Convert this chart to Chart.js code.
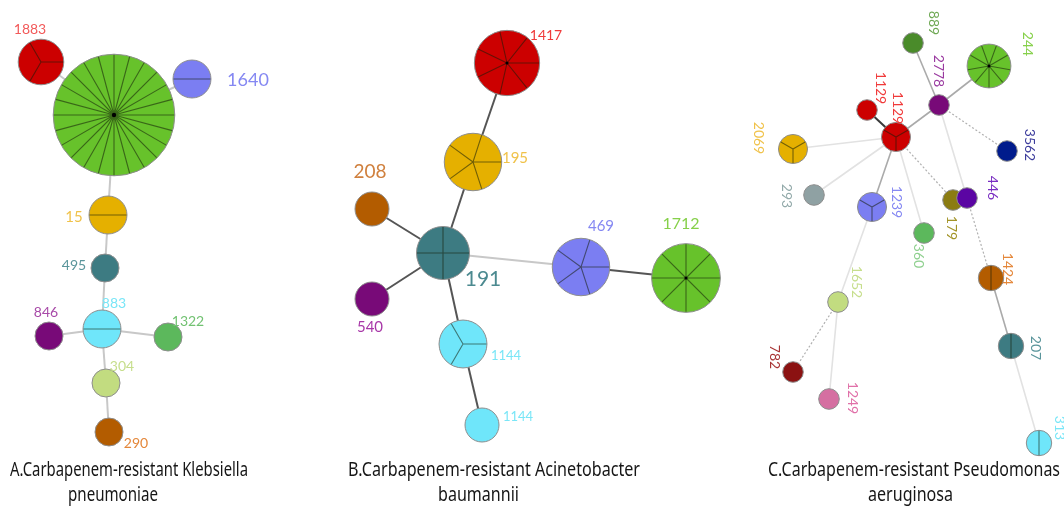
<!DOCTYPE html>
<html><head><meta charset="utf-8">
<script src="https://cdn.jsdelivr.net/npm/chart.js@4.4.1/dist/chart.umd.min.js"></script>
<style>html,body{margin:0;padding:0;background:#fff}canvas{display:block}</style>
</head><body>
<canvas id="mst" width="1064" height="506"></canvas>
<script>
// ---- Panel A: carbapenem-resistant Klebsiella pneumoniae (sequence types, isolate counts) ----
const aLabels = ['', '1883', '1640', '15', '495', '883', '846', '1322', '304', '290'];
const aX = [114, 41, 192, 108, 105, 102, 49, 168, 106, 109];
const aY = [115, 62, 79, 215, 268, 329, 336, 337, 383, 432];
const aCounts = [24, 3, 2, 2, 1, 2, 1, 1, 1, 1];
const aEdges = [[1, 0], [2, 0], [0, 3], [3, 4], [4, 5], [5, 6], [5, 7], [5, 8], [8, 9]];

// ---- Panel B: carbapenem-resistant Acinetobacter baumannii ----
const bLabels = ['1417', '195', '208', '191', '469', '1712', '540', '1144', '1144'];
const bX = [507, 473, 372, 443, 581, 686, 372, 463, 482];
const bY = [63, 162, 209, 253, 267, 278, 299, 344, 425];
const bCounts = [7, 5, 1, 4, 5, 8, 1, 3, 1];
const bEdges = [[0, 1], [1, 3], [2, 3], [6, 3], [3, 7], [7, 8], [3, 4], [4, 5]];

// ---- Panel C: carbapenem-resistant Pseudomonas aeruginosa ----
const cLabels = ['889', '244', '2778', '1129', '1129', '2069', '293', '1239', '179',
                 '446', '360', '3562', '1652', '782', '1249', '1424', '207', '313'];
const cX = [913, 989, 939, 867, 896, 793, 814, 872, 953, 967, 924, 1007, 838, 793, 829, 991, 1011, 1039];
const cY = [43, 66, 105, 110, 137, 149, 195, 207, 200, 198, 233, 151, 302, 372, 399, 278, 346, 443];
const cCounts = [1, 9, 1, 1, 3, 3, 1, 3, 1, 1, 1, 1, 1, 1, 1, 2, 2, 2];
const cEdges = [[0, 2], [1, 2], [2, 4], [3, 4], [4, 5], [4, 6], [4, 7], [4, 10], [4, 8],
                [2, 11], [2, 9], [9, 15], [7, 12], [12, 13], [12, 14], [15, 16], [16, 17]];

// ---- styling ----
const edgeLook = {
  light:  { color: '#c8c8c8', width: 2,   dash: [] },
  dark:   { color: '#555555', width: 2,   dash: [] },
  strong: { color: '#3a3a3a', width: 2,   dash: [] },
  mid:    { color: '#aaaaaa', width: 1.6, dash: [] },
  faint:  { color: '#e2e2e2', width: 1.6, dash: [] },
  dotted: { color: '#b0b0b0', width: 1.2, dash: [2, 2] }
};
const aEdgeLook = ['light', 'light', 'light', 'light', 'light', 'light', 'light', 'light', 'light'];
const bEdgeLook = ['dark', 'dark', 'dark', 'dark', 'dark', 'dark', 'light', 'dark'];
const cEdgeLook = ['mid', 'mid', 'mid', 'strong', 'faint', 'faint', 'mid', 'faint', 'dotted',
                   'dotted', 'faint', 'dotted', 'faint', 'dotted', 'faint', 'mid', 'faint'];

const RED = '#cc0000', GREEN = '#67c22b', BLUE = '#7b7ef2', GOLD = '#e5b000', TEAL = '#3d7b82',
      CYAN = '#6fe6fa', PURPLE = '#780a78', MIDGREEN = '#5cb85c', LIME = '#c2dc80', BROWN = '#b35c00';

const aFill = [GREEN, RED, BLUE, GOLD, TEAL, CYAN, PURPLE, MIDGREEN, LIME, BROWN];
const aText = ['', '#f25a5a', '#8588f2', '#f0c24a', '#5a959b', '#7ae6f7', '#a84aa8', '#72c272', '#c6de8c', '#e4873a'];
const aOffset = [[0, 0], [-11, -33], [56, 1], [-34, 2], [-31, -3], [12, -26], [-3, -24], [20, -16], [16, -17], [27, 11]];
const aSize = [14, 14, 18, 15, 14, 14, 14, 14, 14, 14];

const bFill = [RED, GOLD, BROWN, TEAL, BLUE, GREEN, PURPLE, CYAN, CYAN];
const bText = ['#f03a3a', '#f0c24a', '#d0803e', '#4c8a90', '#8588f2', '#86d04a', '#a838a8', '#7ae6f7', '#7ae6f7'];
const bOffset = [[39, -28], [42, -4], [-2, -37], [40, 26], [20, -41], [-5, -54], [-2, 28], [43, 12], [36, -8]];
const bSize = [14, 15, 19, 21, 15, 16, 15, 13, 13];

const cFill = ['#4a8b2a', GREEN, PURPLE, RED, RED, GOLD, '#8fa1a3', BLUE, '#8b7c12',
               '#5b05a3', MIDGREEN, '#001b8c', LIME, '#8b1212', '#d56fa1', BROWN, TEAL, CYAN];
const cText = ['#6fa854', '#86d04a', '#9a3aa0', '#f03a3a', '#f03a3a', '#f0c24a', '#93aaaa', '#8588f2', '#a39428',
               '#7a2ec2', '#8fd08f', '#3c3c9c', '#c6de8c', '#a83434', '#e070a8', '#e4873a', '#5a959b', '#7ae6f7'];
const cOffset = [[21, -20], [39, -22], [0, -34], [14, -22], [2, -29], [-34, -11], [-27, 1], [25, -5], [-1, 28],
                 [26, -10], [-5, 23], [23, -6], [19, -20], [-18, -15], [24, -1], [17, -9], [25, 2], [21, -15]];
const cSize = [14, 14, 14, 14, 14, 14, 14, 14, 14, 14, 14, 14, 14, 14, 14, 14, 14, 14];

const LABEL_FONT = 'Lato, "Open Sans", "DejaVu Sans", sans-serif';
const TITLE_FONT = '"Liberation Sans Narrow", "Noto Sans", "Liberation Sans", sans-serif';

// node radius grows with the square root of the isolate count
const panels = [
  { labels: aLabels, xs: aX, ys: aY, counts: aCounts, edges: aEdges, edgeLook: aEdgeLook,
    fill: aFill, text: aText, offset: aOffset, size: aSize, r0: 2, rk: 12, start: 0, rotate: false },
  { labels: bLabels, xs: bX, ys: bY, counts: bCounts, edges: bEdges, edgeLook: bEdgeLook,
    fill: bFill, text: bText, offset: bOffset, size: bSize, r0: 7.5, rk: 9.5, start: 0, rotate: false },
  { labels: cLabels, xs: cX, ys: cY, counts: cCounts, edges: cEdges, edgeLook: cEdgeLook,
    fill: cFill, text: cText, offset: cOffset, size: cSize, r0: 4.5, rk: 5.8, start: Math.PI / 2, rotate: true }
];

const titles = [
  { lines: ['A.Carbapenem-resistant Klebsiella', 'pneumoniae'], x: [10, 68], w: [238, 90] },
  { lines: ['B.Carbapenem-resistant Acinetobacter', 'baumannii'], x: [348, 438], w: [292, 81] },
  { lines: ['C.Carbapenem-resistant Pseudomonas', 'aeruginosa'], x: [768, 868], w: [292, 85] }
];

const datasets = [];
panels.forEach((p) => {
  datasets.push({
    type: 'bubble',
    panel: p,
    order: 0,
    data: p.xs.map((x, i) => ({ x, y: p.ys[i], r: p.r0 + p.rk * Math.sqrt(p.counts[i]), n: p.counts[i] })),
    backgroundColor: p.fill,
    borderColor: '#8d8d8d',
    borderWidth: 1,
    hoverRadius: 0,
    hoverBorderWidth: 1,
    clip: false
  });
  p.edges.forEach(([s, t], ei) => {
    const look = edgeLook[p.edgeLook[ei]];
    datasets.push({
      type: 'line',
      order: 1,
      data: [{ x: p.xs[s], y: p.ys[s] }, { x: p.xs[t], y: p.ys[t] }],
      borderColor: look.color,
      borderWidth: look.width,
      borderDash: look.dash,
      pointRadius: 0,
      pointHoverRadius: 0,
      fill: false,
      tension: 0,
      clip: false
    });
  });
});

// slice dividers, hub dots, node labels and panel captions
const mstDecor = {
  id: 'mstDecor',
  afterDatasetsDraw(chart) {
    const ctx = chart.ctx;
    chart.data.datasets.forEach((ds, di) => {
      if (!ds.panel) return;
      const p = ds.panel;
      const meta = chart.getDatasetMeta(di);
      meta.data.forEach((el, i) => {
        const n = ds.data[i].n;
        const x = el.x, y = el.y, r = el.options.radius;
        ctx.save();
        if (n >= 2) {
          ctx.strokeStyle = 'rgba(20,30,10,0.55)';
          ctx.lineWidth = 1.1;
          ctx.beginPath();
          for (let k = 0; k < n; k++) {
            const a = p.start + k * 2 * Math.PI / n;
            ctx.moveTo(x, y);
            ctx.lineTo(x + Math.cos(a) * (r - 0.5), y + Math.sin(a) * (r - 0.5));
          }
          ctx.stroke();
        }
        if (n >= 7) {
          ctx.fillStyle = '#000';
          ctx.beginPath();
          ctx.arc(x, y, n >= 20 ? 2.2 : 1.5, 0, 2 * Math.PI);
          ctx.fill();
        }
        const label = p.labels[i];
        if (label) {
          const [dx, dy] = p.offset[i];
          ctx.fillStyle = p.text[i];
          ctx.font = p.size[i] + 'px ' + LABEL_FONT;
          ctx.textAlign = 'center';
          ctx.textBaseline = 'middle';
          ctx.translate(x + dx, y + dy);
          if (p.rotate) ctx.rotate(Math.PI / 2);
          ctx.fillText(label, 0, 0);
        }
        ctx.restore();
      });
    });
  },
  afterDraw(chart) {
    const ctx = chart.ctx;
    const baselines = [476, 501];
    titles.forEach(t => {
      t.lines.forEach((line, li) => {
        ctx.save();
        ctx.font = '19px ' + TITLE_FONT;
        ctx.fillStyle = '#161616';
        ctx.textAlign = 'left';
        ctx.textBaseline = 'alphabetic';
        const w = ctx.measureText(line).width;
        ctx.translate(t.x[li], baselines[li]);
        ctx.scale(t.w[li] / w, 1);
        ctx.fillText(line, 0, 0);
        ctx.restore();
      });
    });
  }
};

new Chart(document.getElementById('mst'), {
  type: 'scatter',
  data: { datasets },
  options: {
    responsive: false,
    devicePixelRatio: 1,
    animation: false,
    events: [],
    layout: { padding: 0, autoPadding: false },
    scales: {
      x: { type: 'linear', min: 0, max: 1064, display: false },
      y: { type: 'linear', min: 0, max: 506, reverse: true, display: false }
    },
    plugins: { legend: { display: false }, tooltip: { enabled: false } }
  },
  plugins: [mstDecor]
});
</script>
</body></html>
